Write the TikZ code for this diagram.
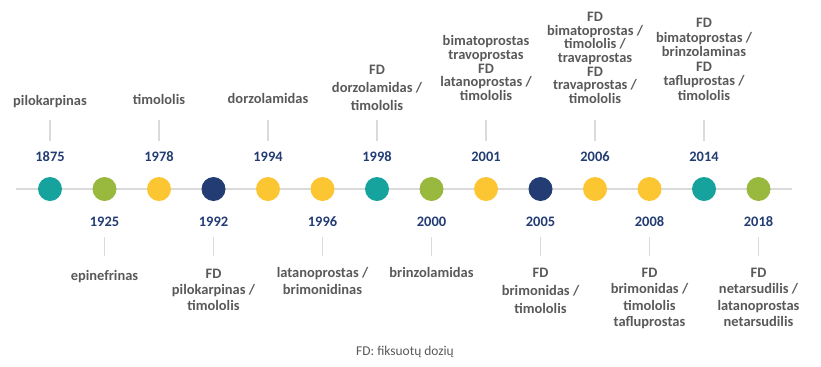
\documentclass[tikz,border=0pt]{standalone}
\usepackage{fontspec}
\setmainfont{Carlito}
\definecolor{teal1}{HTML}{16A39E}
\definecolor{green1}{HTML}{98B83E}
\definecolor{yellow1}{HTML}{FCC532}
\definecolor{navy1}{HTML}{233D74}
\definecolor{txtgray}{HTML}{595959}
\definecolor{linegray}{HTML}{DADADA}
\begin{document}
\begin{tikzpicture}[x=1bp,y=-1bp,
  dot/.style={circle,minimum size=24bp,inner sep=0pt,draw=none},
  yr/.style={font=\fontsize{14.5}{16}\selectfont\bfseries,text=navy1,inner sep=0pt},
  lbl/.style={font=\fontsize{14.5}{#1}\selectfont\bfseries,text=txtgray,align=center,inner sep=0pt,anchor=north},
  lbl/.default=16,
  tick/.style={draw=linegray,line width=1.5bp},
  axis/.style={draw=linegray,line width=1.5bp}]
\useasboundingbox (0,0) rectangle (821,366);
% axis
\coordinate (L) at (16,189);
\coordinate (R) at (792,189);
\draw[axis] (L) -- (R);
% dots
\node[dot,fill=teal1]   (c1)  at (50,189) {};
\node[dot,fill=green1]  (c2)  at (104.5,189) {};
\node[dot,fill=yellow1] (c3)  at (159,189) {};
\node[dot,fill=navy1]   (c4)  at (213.5,189) {};
\node[dot,fill=yellow1] (c5)  at (268,189) {};
\node[dot,fill=yellow1] (c6)  at (322.5,189) {};
\node[dot,fill=teal1]   (c7)  at (377,189) {};
\node[dot,fill=green1]  (c8)  at (431.5,189) {};
\node[dot,fill=yellow1] (c9)  at (486,189) {};
\node[dot,fill=navy1]   (c10) at (540.5,189) {};
\node[dot,fill=yellow1] (c11) at (595,189) {};
\node[dot,fill=yellow1] (c12) at (649.5,189) {};
\node[dot,fill=teal1]   (c13) at (704,189) {};
\node[dot,fill=green1]  (c14) at (758.5,189) {};
% years top
\node[yr] (y1)  at (50,157) {1875};
\node[yr] (y3)  at (159,157) {1978};
\node[yr] (y5)  at (268,157) {1994};
\node[yr] (y7)  at (377,157) {1998};
\node[yr] (y9)  at (486,157) {2001};
\node[yr] (y11) at (595,157) {2006};
\node[yr] (y13) at (704,157) {2014};
% years bottom
\node[yr] (y2)  at (104.5,222) {1925};
\node[yr] (y4)  at (213.5,222) {1992};
\node[yr] (y6)  at (322.5,222) {1996};
\node[yr] (y8)  at (431.5,222) {2000};
\node[yr] (y10) at (540.5,222) {2005};
\node[yr] (y12) at (649.5,222) {2008};
\node[yr] (y14) at (758.5,222) {2018};
% ticks top
\foreach \i/\x in {1/50,3/159,5/268,7/377,9/486,11/595,13/704}{
  \coordinate (ta\i) at (\x,120);
  \coordinate (tb\i) at (\x,141);
  \draw[tick] (ta\i) -- (tb\i);
}
\foreach \i/\x in {2/104.5,4/213.5,6/322.5,8/431.5,10/540.5,12/649.5,14/758.5}{
  \coordinate (ta\i) at (\x,237);
  \coordinate (tb\i) at (\x,256);
  \draw[tick] (ta\i) -- (tb\i);
}
% labels top
\node[lbl] (l1)  at (50,95) {pilokarpinas};
\node[lbl] (l3)  at (159,94) {timololis};
\node[lbl] (l5)  at (268,93) {dorzolamidas};
\node[lbl=18] (l7)  at (377,65) {FD\\dorzolamidas /\\timololis};
\node[lbl=13.9] (l9)  at (486,35) {bimatoprostas\\travoprostas\\FD\\latanoprostas /\\timololis};
\node[lbl=13.7] (l11) at (595,12) {FD\\bimatoprostas /\\timololis /\\travaprostas\\FD\\travaprostas /\\timololis};
\node[lbl=14.6] (l13) at (704,18) {FD\\bimatoprostas /\\brinzolaminas\\FD\\tafluprostas /\\timololis};
% labels bottom
\node[lbl] (l2)  at (104.5,270) {epinefrinas};
\node[lbl=16] (l4)  at (213.5,269) {FD\\pilokarpinas /\\timololis};
\node[lbl=17] (l6)  at (322.5,267) {latanoprostas /\\brimonidinas};
\node[lbl] (l8)  at (431.5,267) {brinzolamidas};
\node[lbl=18] (l10) at (540.5,268) {FD\\brimonidas /\\timololis};
\node[lbl=16.3] (l12) at (649.5,268) {FD\\brimonidas /\\timololis\\tafluprostas};
\node[lbl=16.3] (l14) at (758.5,268) {FD\\netarsudilis /\\latanoprostas\\netarsudilis};
% footnote
\node[font=\fontsize{13.5}{15}\selectfont,text=txtgray,inner sep=0pt] (fn) at (405,352) {FD: fiksuotų dozių};
\end{tikzpicture}
\end{document}
